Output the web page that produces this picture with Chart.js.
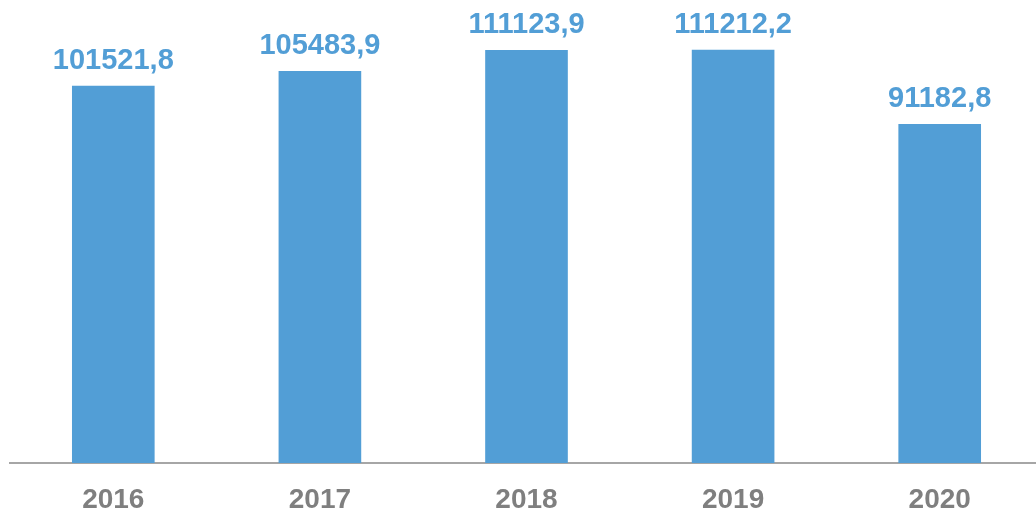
<!DOCTYPE html>
<html>
<head>
<meta charset="utf-8">
<script src="https://cdn.jsdelivr.net/npm/chart.js@4/dist/chart.umd.min.js"></script>
<style>
  html, body { margin: 0; padding: 0; background: #fff; overflow: hidden; }
  #wrap { width: 1044px; height: 513px; position: relative; }
</style>
</head>
<body>
<div id="wrap"><canvas id="myChart"></canvas></div>
<script>
'use strict';

const years = ['2016', '2017', '2018', '2019', '2020'];
const values = [101521.8, 105483.9, 111123.9, 111212.2, 91182.8];

const barColor = '#529ED6';
const labelColor = '#529ED6';
const tickColor = '#7F7F7F';
const fontFamily = '"Liberation Sans", Arial, sans-serif';

// numbers above the bars, comma as decimal separator
const valueLabels = {
  id: 'valueLabels',
  afterDatasetsDraw(chart) {
    const ctx = chart.ctx;
    const meta = chart.getDatasetMeta(0);
    ctx.save();
    ctx.font = 'bold 29px ' + fontFamily;
    ctx.fillStyle = labelColor;
    ctx.textAlign = 'center';
    ctx.textBaseline = 'alphabetic';
    meta.data.forEach(function (bar, i) {
      const text = values[i].toFixed(1).replace('.', ',');
      ctx.fillText(text, bar.x, bar.y - 17);
    });
    ctx.restore();
  }
};

const ctx = document.getElementById('myChart');

new Chart(ctx, {
  type: 'bar',
  data: {
    labels: years,
    datasets: [
      {
        data: values,
        backgroundColor: barColor,
        borderWidth: 0,
        categoryPercentage: 1,
        barPercentage: 0.4,
      },
    ],
  },
  options: {
    responsive: true,
    maintainAspectRatio: false,
    animation: false,
    layout: { padding: { left: 10, right: 1, top: 17, bottom: 0 } },
    plugins: {
      legend: { display: false },
      tooltip: { enabled: false },
    },
    scales: {
      x: {
        grid: { display: false, drawTicks: false },
        border: { display: true, color: '#A6A6A6', width: 2 },
        ticks: {
          color: tickColor,
          font: { family: fontFamily, size: 28, weight: 'bold' },
          padding: 20,
        },
        afterFit(scale) {
          scale.height = 50;
        },
      },
      y: {
        display: false,
        min: 0,
        max: 120000,
      },
    },
  },
  plugins: [valueLabels],
});
</script>
</body>
</html>
